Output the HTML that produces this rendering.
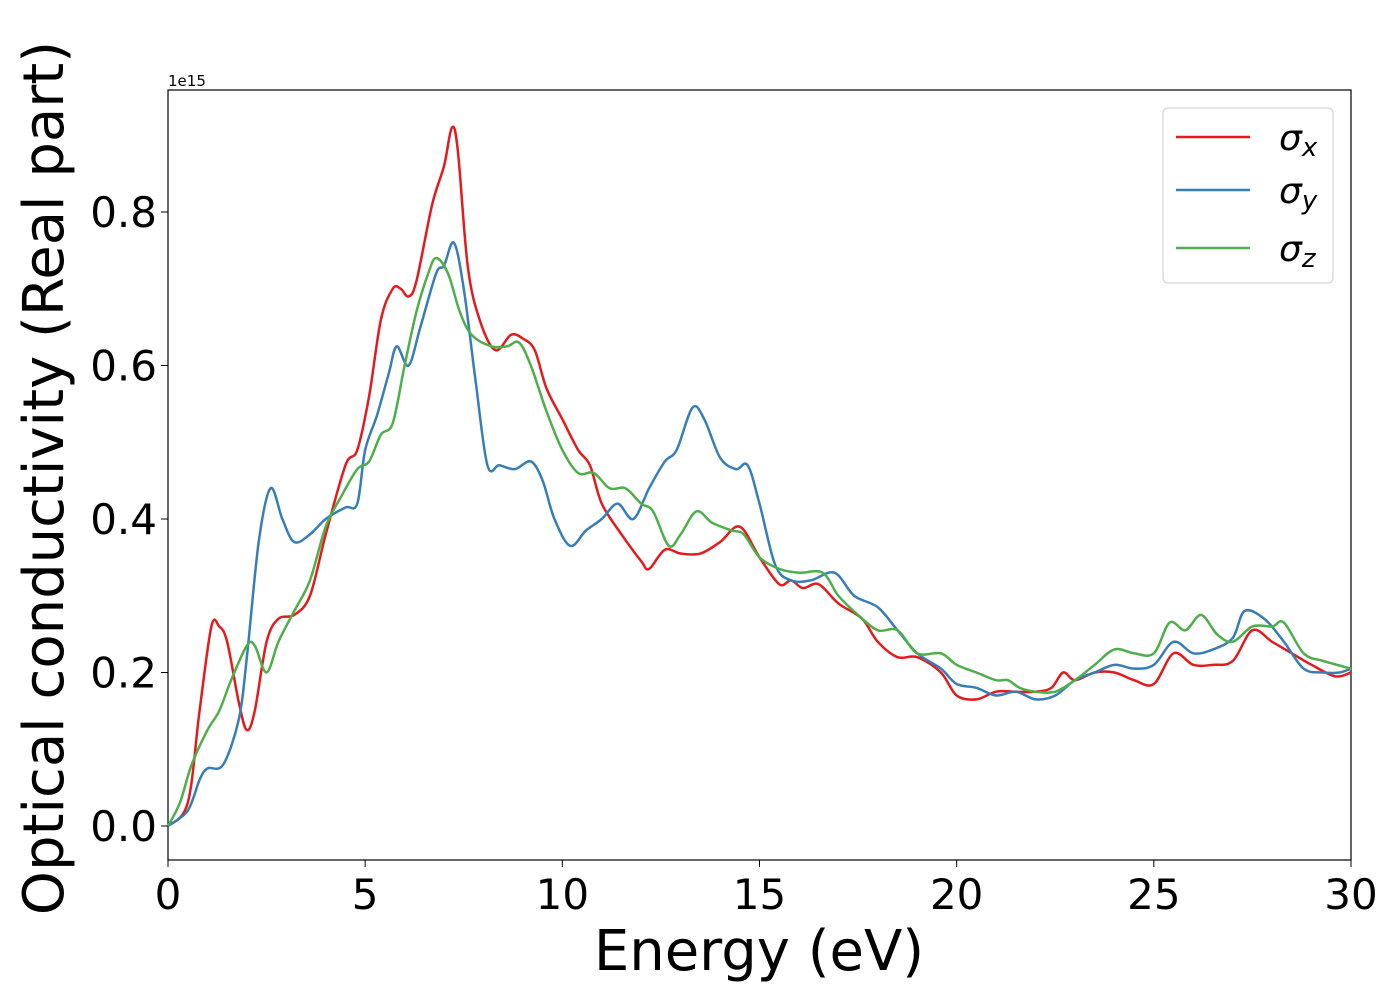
<!DOCTYPE html>
<html><head><meta charset="utf-8"><style>
body{margin:0;background:#fff;}
svg{display:block;font-family:"DejaVu Sans","Liberation Sans",sans-serif;}
</style></head><body>
<svg id="chart" width="1400" height="1000">
<rect x="168" y="90" width="1183" height="770" fill="none" stroke="#000" stroke-width="1.2"/>
<g id="xticks"></g>
<g id="yticks"></g>
<text x="168" y="86" font-size="15">1e15</text>
<text x="759" y="970" font-size="56" text-anchor="middle">Energy (eV)</text>
<text transform="translate(63,478) rotate(-90)" font-size="56" text-anchor="middle">Optical conductivity (Real part)</text>
<g id="series"></g>
<g>
<rect x="1163" y="108" width="170" height="175" rx="5" fill="#fff" stroke="#ccc"/>
<line x1="1176" y1="137" x2="1250" y2="137" stroke="#e41a1c" stroke-width="2.5"/>
<line x1="1176" y1="190" x2="1250" y2="190" stroke="#377eb8" stroke-width="2.5"/>
<line x1="1176" y1="248" x2="1250" y2="248" stroke="#4daf4a" stroke-width="2.5"/>
<text x="1279" y="150" font-size="36" font-style="italic">σ<tspan font-size="26" dy="6">x</tspan></text>
<text x="1279" y="203" font-size="36" font-style="italic">σ<tspan font-size="26" dy="6">y</tspan></text>
<text x="1279" y="261" font-size="36" font-style="italic">σ<tspan font-size="26" dy="6">z</tspan></text>
</g>
</svg>
<script>
const xTickLabels=["0","5","10","15","20","25","30"];
const xTickValues=[0,5,10,15,20,25,30];
const yTickValues=[0,0.2,0.4,0.6,0.8];
const yTickLabels=["0.0","0.2","0.4","0.6","0.8"];
const sxE=[0,0.5,0.8,1.1,1.3,1.5,1.8,2.0,2.2,2.5,2.8,3.2,3.6,4.0,4.5,4.8,5.1,5.4,5.7,5.9,6.1,6.3,6.7,7.0,7.2,7.35,7.6,7.9,8.3,8.7,9.0,9.3,9.6,10.0,10.4,10.7,11.0,11.5,12.0,12.2,12.6,13.0,13.5,14.0,14.5,15.0,15.5,15.8,16.1,16.5,17.0,17.6,18.0,18.5,19.0,19.6,20.0,20.5,21.0,21.5,22.0,22.4,22.7,23.0,23.5,24.0,24.5,25.0,25.5,26.0,26.5,27.0,27.5,28.0,28.5,29.0,29.6,30];
const sxV=[0,0.03,0.15,0.26,0.26,0.24,0.16,0.125,0.15,0.24,0.27,0.275,0.3,0.38,0.47,0.49,0.56,0.66,0.70,0.70,0.69,0.71,0.81,0.86,0.91,0.88,0.73,0.66,0.62,0.64,0.635,0.62,0.57,0.53,0.49,0.47,0.42,0.38,0.345,0.335,0.36,0.355,0.355,0.37,0.39,0.35,0.315,0.32,0.31,0.315,0.29,0.27,0.24,0.22,0.22,0.20,0.17,0.165,0.175,0.175,0.175,0.18,0.20,0.19,0.20,0.20,0.19,0.185,0.225,0.21,0.21,0.215,0.255,0.24,0.225,0.21,0.195,0.2];
const syE=[0,0.5,0.8,1.0,1.4,1.8,2.0,2.3,2.6,2.9,3.2,3.6,4.0,4.5,4.8,5.0,5.3,5.6,5.8,6.1,6.4,6.8,7.0,7.25,7.5,7.8,8.1,8.4,8.8,9.2,9.5,9.8,10.2,10.6,11.0,11.4,11.8,12.2,12.6,12.9,13.3,13.6,14.0,14.4,14.7,15.0,15.4,15.8,16.3,16.9,17.4,18.0,18.5,19.0,19.6,20.0,20.5,21.0,21.5,22.0,22.5,23.0,23.5,24.0,24.5,25.0,25.5,26.0,26.5,27.0,27.3,27.8,28.3,28.8,29.3,29.7,30];
const syV=[0,0.02,0.06,0.075,0.08,0.14,0.22,0.37,0.44,0.40,0.37,0.38,0.40,0.415,0.42,0.49,0.535,0.59,0.625,0.60,0.65,0.72,0.73,0.76,0.70,0.58,0.47,0.47,0.465,0.475,0.45,0.40,0.365,0.385,0.40,0.42,0.40,0.44,0.475,0.49,0.545,0.53,0.48,0.465,0.47,0.42,0.34,0.32,0.32,0.33,0.30,0.285,0.255,0.225,0.205,0.185,0.18,0.17,0.175,0.165,0.17,0.19,0.20,0.21,0.205,0.21,0.24,0.225,0.23,0.245,0.28,0.27,0.24,0.205,0.20,0.20,0.205];
const szE=[0,0.3,0.6,1.0,1.3,1.6,2.0,2.2,2.5,2.8,3.2,3.6,4.0,4.4,4.8,5.1,5.4,5.7,6.0,6.3,6.6,6.8,7.1,7.4,7.7,8.2,8.6,8.9,9.2,9.6,10.0,10.4,10.8,11.2,11.6,12.0,12.3,12.7,13.0,13.4,13.8,14.3,14.6,15.0,15.5,16.0,16.6,17.0,17.5,18.0,18.5,19.0,19.6,20.0,20.5,21.0,21.3,21.6,22.0,22.5,23.0,23.5,24.0,24.5,25.0,25.4,25.8,26.2,26.6,27.0,27.5,28.0,28.3,28.8,29.3,30];
const szV=[0,0.03,0.08,0.125,0.15,0.19,0.235,0.235,0.20,0.24,0.28,0.32,0.39,0.43,0.465,0.475,0.51,0.525,0.60,0.67,0.72,0.74,0.72,0.67,0.64,0.625,0.625,0.63,0.60,0.54,0.49,0.46,0.46,0.44,0.44,0.42,0.41,0.365,0.38,0.41,0.395,0.385,0.38,0.35,0.335,0.33,0.33,0.30,0.275,0.255,0.255,0.225,0.225,0.21,0.20,0.19,0.19,0.18,0.175,0.175,0.19,0.21,0.23,0.225,0.225,0.265,0.255,0.275,0.25,0.24,0.26,0.26,0.265,0.225,0.215,0.205];

const X0=168,X1=1351,XMIN=0,XMAX=30;
const Y0=826,YPER=767.5;
function xs(v){return X0+(v-XMIN)/(XMAX-XMIN)*(X1-X0);}
function ys(v){return Y0-v*YPER;}
const NS="http://www.w3.org/2000/svg";
const xt=document.getElementById('xticks'),yt=document.getElementById('yticks'),sg=document.getElementById('series');
xTickValues.forEach((v,i)=>{
  const l=document.createElementNS(NS,'line');
  l.setAttribute('x1',xs(v));l.setAttribute('x2',xs(v));l.setAttribute('y1',860);l.setAttribute('y2',867);l.setAttribute('stroke','#000');
  
  
  xt.appendChild(l);
  const t=document.createElementNS(NS,'text');
  t.setAttribute('x',xs(v));t.setAttribute('y',909);t.setAttribute('font-size','42');t.setAttribute('text-anchor','middle');
  t.textContent=xTickLabels[i];
  
  
  xt.appendChild(t);
});
yTickValues.forEach((v,i)=>{
  const l=document.createElementNS(NS,'line');
  l.setAttribute('x1',161);l.setAttribute('x2',168);l.setAttribute('y1',ys(v));l.setAttribute('y2',ys(v));l.setAttribute('stroke','#000');
  
  
  yt.appendChild(l);
  const t=document.createElementNS(NS,'text');
  t.setAttribute('x',157);t.setAttribute('y',ys(v)+15);t.setAttribute('font-size','42');t.setAttribute('text-anchor','end');
  t.textContent=yTickLabels[i];
  
  
  yt.appendChild(t);
});
function smooth(E,V){
  const p=E.map((e,i)=>[xs(e),ys(V[i])]);
  let d='M'+p[0][0]+','+p[0][1];
  for(let i=0;i<p.length-1;i++){
    const a=p[Math.max(0,i-1)],b=p[i],c=p[i+1],e=p[Math.min(p.length-1,i+2)];
    const c1=[b[0]+(c[0]-a[0])/6,b[1]+(c[1]-a[1])/6],c2=[c[0]-(e[0]-b[0])/6,c[1]-(e[1]-b[1])/6];
    d+=' C'+c1[0]+','+c1[1]+' '+c2[0]+','+c2[1]+' '+c[0]+','+c[1];
  }
  return d;
}
[[sxE,sxV,'#e41a1c','sigma-x-line'],[syE,syV,'#377eb8','sigma-y-line'],[szE,szV,'#4daf4a','sigma-z-line']].forEach(s=>{
  const p=document.createElementNS(NS,'path');
  p.setAttribute('d',smooth(s[0],s[1]));p.setAttribute('fill','none');p.setAttribute('stroke',s[2]);p.setAttribute('stroke-width','2.5');
  
  
  sg.appendChild(p);
});
</script>
</body></html>
